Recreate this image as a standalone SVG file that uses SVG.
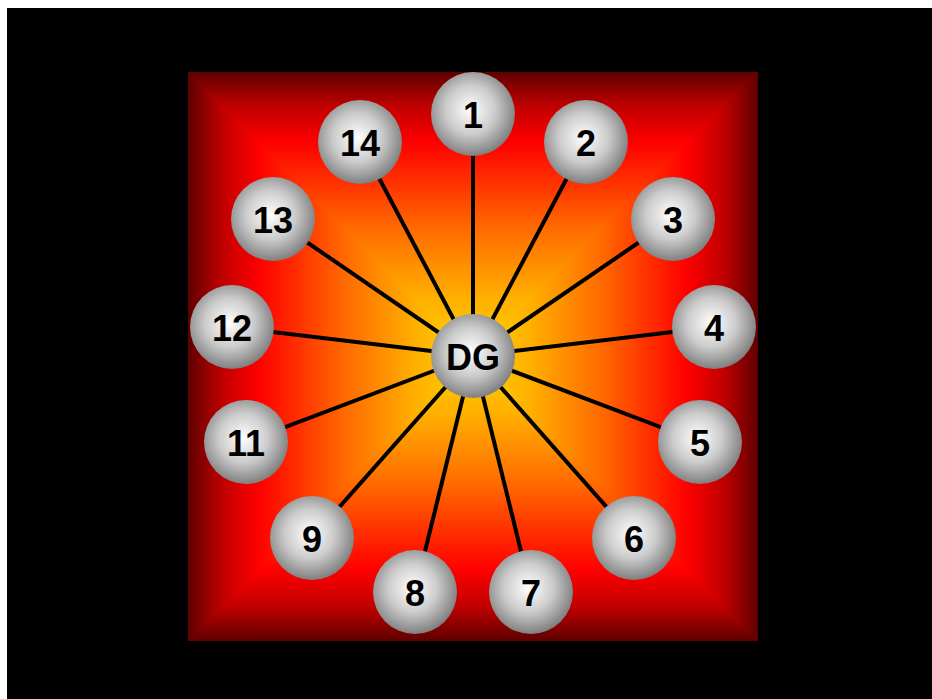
<svg xmlns="http://www.w3.org/2000/svg" width="932" height="699" viewBox="0 0 932 699">
<defs>
<linearGradient id="gT" x1="0" y1="72" x2="0" y2="356" gradientUnits="userSpaceOnUse">
<stop offset="0" stop-color="#5e0000"/><stop offset="0.12" stop-color="#c00000"/><stop offset="0.25" stop-color="#ff0000"/><stop offset="0.55" stop-color="#ff6a00"/><stop offset="0.8" stop-color="#ffb000"/><stop offset="1" stop-color="#ffd400"/>
</linearGradient>
<linearGradient id="gB" x1="0" y1="641" x2="0" y2="356" gradientUnits="userSpaceOnUse">
<stop offset="0" stop-color="#5e0000"/><stop offset="0.12" stop-color="#c00000"/><stop offset="0.25" stop-color="#ff0000"/><stop offset="0.55" stop-color="#ff6a00"/><stop offset="0.8" stop-color="#ffb000"/><stop offset="1" stop-color="#ffd400"/>
</linearGradient>
<linearGradient id="gL" x1="188" y1="0" x2="473" y2="0" gradientUnits="userSpaceOnUse">
<stop offset="0" stop-color="#5e0000"/><stop offset="0.12" stop-color="#c00000"/><stop offset="0.25" stop-color="#ff0000"/><stop offset="0.55" stop-color="#ff6a00"/><stop offset="0.8" stop-color="#ffb000"/><stop offset="1" stop-color="#ffd400"/>
</linearGradient>
<linearGradient id="gR" x1="758" y1="0" x2="473" y2="0" gradientUnits="userSpaceOnUse">
<stop offset="0" stop-color="#5e0000"/><stop offset="0.12" stop-color="#c00000"/><stop offset="0.25" stop-color="#ff0000"/><stop offset="0.55" stop-color="#ff6a00"/><stop offset="0.8" stop-color="#ffb000"/><stop offset="1" stop-color="#ffd400"/>
</linearGradient>
<radialGradient id="ball" cx="0.47" cy="0.45" r="0.58">
<stop offset="0" stop-color="#ffffff"/><stop offset="0.5" stop-color="#cccccc"/><stop offset="1" stop-color="#777777"/>
</radialGradient>
<clipPath id="sq"><rect x="188" y="72" width="570" height="569"/></clipPath>
</defs>
<style>
.n circle{fill:url(#ball);}
.n text{font-family:"Liberation Sans",Arial,sans-serif;font-weight:bold;font-size:36px;fill:#000;text-anchor:middle;}
#edges line{stroke:#000;stroke-width:4;}
</style>
<rect x="0" y="0" width="932" height="699" fill="#ffffff"/>
<rect x="7" y="8" width="925" height="691" fill="#000000"/>
<g id="background" clip-path="url(#sq)">
<polygon points="188,72 758,72 473,356.5" fill="url(#gT)" stroke="url(#gT)" stroke-width="2"/>
<polygon points="188,641 758,641 473,356.5" fill="url(#gB)" stroke="url(#gB)" stroke-width="2"/>
<polygon points="188,72 188,641 473,356.5" fill="url(#gL)" stroke="url(#gL)" stroke-width="1.5"/>
<polygon points="758,72 758,641 473,356.5" fill="url(#gR)" stroke="url(#gR)" stroke-width="1.5"/>
</g>
<g id="edges">
<line x1="473" y1="356" x2="473" y2="114"/>
<line x1="473" y1="356" x2="586" y2="142"/>
<line x1="473" y1="356" x2="673" y2="219"/>
<line x1="473" y1="356" x2="714" y2="327"/>
<line x1="473" y1="356" x2="700" y2="442"/>
<line x1="473" y1="356" x2="634" y2="538"/>
<line x1="473" y1="356" x2="531" y2="592"/>
<line x1="473" y1="356" x2="415" y2="592"/>
<line x1="473" y1="356" x2="312" y2="538"/>
<line x1="473" y1="356" x2="246" y2="442"/>
<line x1="473" y1="356" x2="232" y2="327"/>
<line x1="473" y1="356" x2="273" y2="219"/>
<line x1="473" y1="356" x2="360" y2="142"/>
</g>
<g id="node-1" class="n"><circle cx="473" cy="114" r="42"/><text x="473" y="128">1</text></g>
<g id="node-2" class="n"><circle cx="586" cy="142" r="42"/><text x="586" y="156">2</text></g>
<g id="node-3" class="n"><circle cx="673" cy="219" r="42"/><text x="673" y="233">3</text></g>
<g id="node-4" class="n"><circle cx="714" cy="327" r="42"/><text x="714" y="341">4</text></g>
<g id="node-5" class="n"><circle cx="700" cy="442" r="42"/><text x="700" y="456">5</text></g>
<g id="node-6" class="n"><circle cx="634" cy="538" r="42"/><text x="634" y="552">6</text></g>
<g id="node-7" class="n"><circle cx="531" cy="592" r="42"/><text x="531" y="606">7</text></g>
<g id="node-8" class="n"><circle cx="415" cy="592" r="42"/><text x="415" y="606">8</text></g>
<g id="node-9" class="n"><circle cx="312" cy="538" r="42"/><text x="312" y="552">9</text></g>
<g id="node-11" class="n"><circle cx="246" cy="442" r="42"/><text x="246" y="456">11</text></g>
<g id="node-12" class="n"><circle cx="232" cy="327" r="42"/><text x="232" y="341">12</text></g>
<g id="node-13" class="n"><circle cx="273" cy="219" r="42"/><text x="273" y="233">13</text></g>
<g id="node-14" class="n"><circle cx="360" cy="142" r="42"/><text x="360" y="156">14</text></g>
<g id="node-DG" class="n"><circle cx="473" cy="356" r="42"/><text x="473" y="370">DG</text></g>
</svg>
